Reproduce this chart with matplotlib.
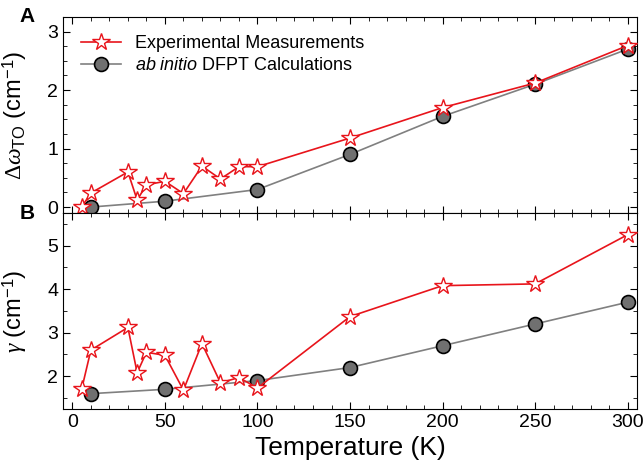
import matplotlib
matplotlib.use('Agg')
import matplotlib.pyplot as plt
from matplotlib.ticker import MultipleLocator

plt.rcParams['font.family'] = ['Liberation Sans', 'DejaVu Sans']
plt.rcParams['mathtext.fontset'] = 'custom'
plt.rcParams['mathtext.rm'] = 'Liberation Serif'
plt.rcParams['mathtext.it'] = 'Liberation Serif:italic'
plt.rcParams['mathtext.sf'] = 'Liberation Sans'
plt.rcParams['mathtext.bf'] = 'Liberation Sans:italic'

# data
T_exp = [5, 10, 30, 35, 40, 50, 60, 70, 80, 90, 100, 150, 200, 250, 300]
shift_exp = [0.0, 0.24, 0.6, 0.12, 0.38, 0.44, 0.23, 0.7, 0.48, 0.69, 0.69,
             1.18, 1.7, 2.12, 2.76]
gamma_exp = [1.7, 2.6, 3.12, 2.08, 2.55, 2.48, 1.68, 2.75, 1.85, 1.97, 1.73,
             3.37, 4.08, 4.12, 5.25]

T_calc = [10, 50, 100, 150, 200, 250, 300]
shift_calc = [0.0, 0.1, 0.3, 0.9, 1.55, 2.1, 2.7]
gamma_calc = [1.6, 1.7, 1.9, 2.2, 2.7, 3.2, 3.7]

fig = plt.figure(figsize=(6.44, 4.7), dpi=100)
ax1 = fig.add_axes([0.098, 0.547, 0.891, 0.417])
ax2 = fig.add_axes([0.098, 0.130, 0.891, 0.417])

red = '#e8141b'
for ax, ye, yc in [(ax1, shift_exp, shift_calc), (ax2, gamma_exp, gamma_calc)]:
    ax.plot(T_exp, ye, '-', color=red, lw=1.2, marker='*', ms=13,
            mfc='white', mec=red, mew=1.0, label='Experimental Measurements',
            zorder=3)
    ax.plot(T_calc, yc, '-', color='#808080', lw=1.2, marker='o', ms=10,
            mfc='#707070', mec='black', mew=1.2,
            label=r'$\mathbf{ab\ initio}$ DFPT Calculations', zorder=2)
    ax.set_xlim(-5, 305)
    ax.xaxis.set_major_locator(MultipleLocator(50))
    ax.xaxis.set_minor_locator(MultipleLocator(10))
    ax.tick_params(which='both', direction='in', top=True, right=True,
                   labelsize=14)
    ax.tick_params(which='major', length=5)
    ax.tick_params(which='minor', length=3)

ax1.set_ylim(-0.1, 3.25)
ax1.yaxis.set_major_locator(MultipleLocator(1))
ax1.yaxis.set_minor_locator(MultipleLocator(0.25))
ax1.tick_params(labelbottom=False)
ax1.set_ylabel(r'$\Delta\omega_{\mathsf{TO}}$ (cm$^{\mathsf{-1}}$)', fontsize=17)

ax2.set_ylim(1.25, 5.75)
ax2.yaxis.set_major_locator(MultipleLocator(1))
ax2.yaxis.set_minor_locator(MultipleLocator(0.5))
ax2.set_ylabel(r'$\gamma$ (cm$^{\mathsf{-1}}$)', fontsize=17)
ax2.set_xlabel('Temperature (K)', fontsize=19)

ax1.legend(loc='upper left', frameon=False, fontsize=13,
           handlelength=2.2, borderaxespad=0.6, labelspacing=0.3)

ax1.yaxis.set_label_coords(-0.06, 0.5)
ax2.yaxis.set_label_coords(-0.06, 0.5)

fig.text(0.03, 0.985, 'A', fontsize=15, fontweight='bold', va='top')
fig.text(0.03, 0.565, 'B', fontsize=15, fontweight='bold', va='top')

fig.savefig('out.png', dpi=100)
